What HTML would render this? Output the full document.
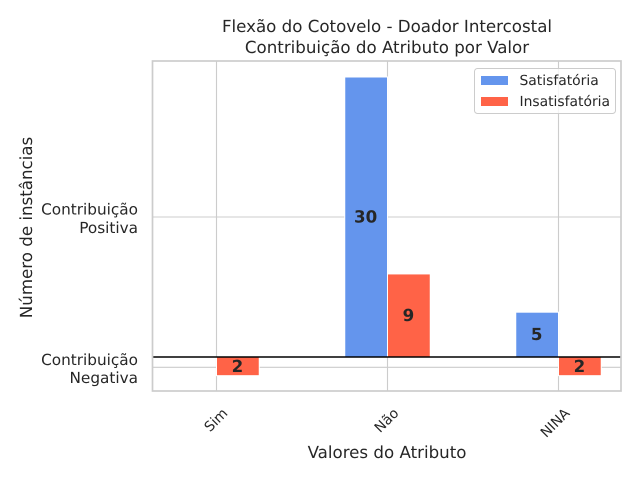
<!DOCTYPE html>
<html lang="pt">
<head>
<meta charset="utf-8">
<title>Flexão do Cotovelo - Doador Intercostal</title>
<style>
html,body{margin:0;padding:0;background:#fff}
svg{display:block}
text{font-family:"DejaVu Sans","Liberation Sans",sans-serif;fill:#262626;text-rendering:geometricPrecision}
</style>
</head>
<body>
<svg id="chart" xmlns="http://www.w3.org/2000/svg" width="640" height="480" viewBox="0 0 640 480"></svg>
<script>
const categories = ['Sim', 'Não', 'NINA'];
const seriesNames = ['Satisfatória', 'Insatisfatória'];
const satisfatoria = [0, 30, 4.8];
const insatisfatoria = [-2, 8.9, -2];
const satisfatoriaLabels = ['', '30', '5'];
const insatisfatoriaLabels = ['2', '9', '2'];
const yTickValues = [15, -1.1];
const yTickLabels = [['Contribuição', 'Positiva'], ['Contribuição', 'Negativa']];

const svg = document.getElementById('chart');
const NS = 'http://www.w3.org/2000/svg';
const plot = {left: 152.5, right: 621, top: 61, bottom: 391};
const xScale = v => 216.5 + v * 171;
const yScale = v => 357 - v * (280 / 30);
const barWidth = 42.75;
const blue = '#6495ED';
const red = '#FF6347';

function make(tag, attrs, text) {
  const el = document.createElementNS(NS, tag);
  for (const key in attrs) el.setAttribute(key, attrs[key]);
  if (text !== undefined) el.textContent = text;
  svg.appendChild(el);
  return el;
}

// grid
yTickValues.forEach(v => {
  const line = make('line', {x1: plot.left, x2: plot.right, y1: yScale(v), y2: yScale(v), stroke: '#cccccc', 'stroke-width': 1.1});
  
  
});
categories.forEach((c, i) => {
  const line = make('line', {x1: xScale(i), x2: xScale(i), y1: plot.top, y2: plot.bottom, stroke: '#cccccc', 'stroke-width': 1.1});
  
  
});

// bars
function drawBars(values, color, offset, name) {
  values.forEach((v, i) => {
    if (v === 0) return;
    const y0 = yScale(Math.max(v, 0));
    const y1 = yScale(Math.min(v, 0));
    const bar = make('rect', {x: xScale(i) + offset, y: y0, width: barWidth, height: y1 - y0, fill: color, stroke: '#ffffff', 'stroke-width': 1});
    
    
  });
}
drawBars(satisfatoria, blue, -barWidth, 'bar-satisfatoria');
drawBars(insatisfatoria, red, 0, 'bar-insatisfatoria');

// zero line
const zeroLine = make('line', {x1: plot.left, x2: plot.right, y1: yScale(0), y2: yScale(0), stroke: '#000000', 'stroke-width': 1.5});



// value labels
function drawValueLabels(values, labels, offset, name) {
  values.forEach((v, i) => {
    if (!labels[i]) return;
    const label = make('text', {x: xScale(i) + offset + barWidth / 2 - 0.5, y: yScale(v / 2), 'text-anchor': 'middle', 'dominant-baseline': 'central', 'font-size': 16.67, 'font-weight': 'bold'}, labels[i]);
    
    
  });
}
drawValueLabels(satisfatoria, satisfatoriaLabels, -barWidth, 'value-label-satisfatoria');
drawValueLabels(insatisfatoria, insatisfatoriaLabels, 0, 'value-label-insatisfatoria');

// spines
const frame = make('rect', {x: plot.left, y: plot.top, width: plot.right - plot.left, height: plot.bottom - plot.top, fill: 'none', stroke: '#cccccc', 'stroke-width': 1.7});



// y tick labels
yTickValues.forEach((v, i) => {
  const y = yScale(v);
  const first = make('text', {x: 138, y: y - 2.3, 'text-anchor': 'end', 'font-size': 15.28}, yTickLabels[i][0]);
  
  
  const second = make('text', {x: 138, y: y + 15.8, 'text-anchor': 'end', 'font-size': 15.28}, yTickLabels[i][1]);
  
  
});

// x tick labels
categories.forEach((c, i) => {
  const tx = xScale(i) + 12;
  const ty = 414;
  const label = make('text', {x: tx, y: ty, 'text-anchor': 'end', 'font-size': 13.89, transform: 'rotate(-45 ' + tx + ' ' + ty + ')'}, c);
  
  
});

// titles
const titleOne = make('text', {x: 387, y: 32, 'text-anchor': 'middle', 'font-size': 16.67}, 'Flexão do Cotovelo - Doador Intercostal');


const titleTwo = make('text', {x: 387, y: 53, 'text-anchor': 'middle', 'font-size': 16.67}, 'Contribuição do Atributo por Valor');


const xTitle = make('text', {x: 387, y: 458, 'text-anchor': 'middle', 'font-size': 16.67}, 'Valores do Atributo');


const yTitle = make('text', {x: 32, y: 227.5, 'text-anchor': 'middle', 'font-size': 16.67, transform: 'rotate(-90 32 227.5)'}, 'Número de instâncias');



// legend
const legendBox = make('rect', {x: 474.5, y: 68.5, width: 141, height: 45, rx: 3, fill: '#ffffff', 'fill-opacity': 0.8, stroke: '#cccccc', 'stroke-width': 1});


[blue, red].forEach((color, i) => {
  const swatch = make('rect', {x: 481, y: 76 + i * 21, width: 27, height: 9, fill: color});
  
  
  const entry = make('text', {x: 519.5, y: 85 + i * 21, 'text-anchor': 'start', 'font-size': 13.89}, seriesNames[i]);
  
  
});
</script>
</body>
</html>
